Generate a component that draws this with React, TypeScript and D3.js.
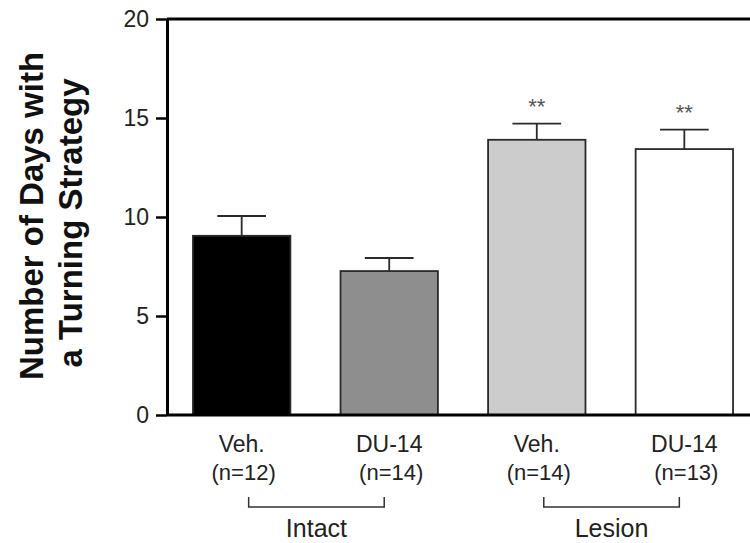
import * as d3 from "d3";
import { useRef, useEffect } from "react";

// data
const groups = ["Intact Veh.", "Intact DU-14", "Lesion Veh.", "Lesion DU-14"];
const treatments = ["Veh.", "DU-14", "Veh.", "DU-14"];
const sampleSizes = ["(n=12)", "(n=14)", "(n=14)", "(n=13)"];
const means = [9.05, 7.27, 13.9, 13.43];
const sems = [1.0, 0.66, 0.82, 0.98];
const significance = ["", "", "**", "**"];
const fills = ["#000000", "#8e8e8e", "#cccccc", "#ffffff"];
const yTicks = [0, 5, 10, 15, 20];
const brackets = [
  { label: "Intact", from: "Intact Veh.", to: "Intact DU-14" },
  { label: "Lesion", from: "Lesion Veh.", to: "Lesion DU-14" },
];

export default function App() {
  const svgRef = useRef<SVGSVGElement>(null);

  useEffect(() => {
    const width = 750;
    const height = 543;
    const marginLeft = 167;
    const marginTop = 19;
    const marginBottom = 128;
    const font = "Arial, 'Liberation Sans', sans-serif";

    const svg = d3
      .select(svgRef.current)
      .attr("width", width)
      .attr("height", height)
      .attr("viewBox", [0, 0, width, height]);
    svg.selectAll("*").remove();

    const x = d3
      .scaleBand()
      .domain(groups)
      .range([marginLeft, 759])
      .paddingInner(0.34)
      .paddingOuter(0.176);
    const cx = (g: string) => x(g)! + x.bandwidth() / 2;

    const y = d3
      .scaleLinear()
      .domain([0, 20])
      .range([height - marginBottom, marginTop]);

    // bars
    svg
      .append("g")
      .selectAll("rect")
      .data(groups)
      .join("rect")
      .attr("x", (d) => x(d)!)
      .attr("y", (d, i) => y(means[i]))
      .attr("width", x.bandwidth())
      .attr("height", (d, i) => y(0) - y(means[i]))
      .attr("fill", (d, i) => fills[i])
      .attr("stroke", "#2a2a2a")
      .attr("stroke-width", 1.8);

    // error bars (upper only)
    const err = svg.append("g").attr("stroke", "#2a2a2a").attr("stroke-width", 1.8);
    groups.forEach((g, i) => {
      const top = y(means[i] + sems[i]);
      err.append("line").attr("x1", cx(g)).attr("x2", cx(g)).attr("y1", y(means[i])).attr("y2", top);
      err
        .append("line")
        .attr("x1", cx(g) - x.bandwidth() / 4)
        .attr("x2", cx(g) + x.bandwidth() / 4)
        .attr("y1", top)
        .attr("y2", top);
      if (significance[i]) {
        svg
          .append("text")
          .attr("x", cx(g))
          .attr("y", top - 10)
          .attr("text-anchor", "middle")
          .attr("font-family", font)
          .attr("font-size", 22)
          .attr("fill", "#555")
          .text(significance[i]);
      }
    });

    // y axis
    svg
      .append("g")
      .attr("transform", `translate(${marginLeft},0)`)
      .call(d3.axisLeft(y).tickValues(yTicks).tickSize(11).tickPadding(7).tickSizeOuter(0))
      .call((g) => g.select(".domain").attr("stroke-width", 3))
      .call((g) => g.selectAll(".tick line").attr("stroke-width", 2.5))
      .call((g) =>
        g
          .selectAll(".tick text")
          .attr("font-family", font)
          .attr("font-size", 23)
          .attr("fill", "#222")
      );

    // top frame line and baseline
    svg
      .append("line")
      .attr("x1", marginLeft)
      .attr("x2", width)
      .attr("y1", y(20))
      .attr("y2", y(20))
      .attr("stroke", "#000")
      .attr("stroke-width", 3);
    svg
      .append("line")
      .attr("x1", marginLeft)
      .attr("x2", width)
      .attr("y1", y(0))
      .attr("y2", y(0))
      .attr("stroke", "#000")
      .attr("stroke-width", 3);

    // category labels
    const lab = svg
      .append("g")
      .attr("font-family", font)
      .attr("fill", "#222")
      .attr("text-anchor", "middle");
    groups.forEach((g, i) => {
      lab.append("text").attr("x", cx(g)).attr("y", 452).attr("font-size", 23).text(treatments[i]);
      lab.append("text").attr("x", cx(g) + 2).attr("y", 480).attr("font-size", 22).text(sampleSizes[i]);
    });

    // group brackets
    brackets.forEach((b) => {
      const x1 = cx(b.from) + 7;
      const x2 = cx(b.to) - 5;
      svg
        .append("path")
        .attr("d", `M${x1},497V507H${x2}V497`)
        .attr("fill", "none")
        .attr("stroke", "#333")
        .attr("stroke-width", 1.5);
      svg
        .append("text")
        .attr("x", (x1 + x2) / 2)
        .attr("y", 537)
        .attr("text-anchor", "middle")
        .attr("font-family", font)
        .attr("font-size", 25)
        .attr("fill", "#222")
        .text(b.label);
    });

    // y axis title
    const title = svg
      .append("text")
      .attr("transform", "translate(0,216) rotate(-90)")
      .attr("text-anchor", "middle")
      .attr("font-family", font)
      .attr("font-weight", "bold")
      .attr("font-size", 33)
      .attr("fill", "#111");
    title.append("tspan").attr("x", 0).attr("y", 43).text("Number of Days with");
    title.append("tspan").attr("x", -7).attr("y", 82).text("a Turning Strategy");
  }, []);

  return (
    <div style={{ position: "absolute", left: 0, top: 0 }}>
      <svg ref={svgRef}></svg>
    </div>
  );
}
